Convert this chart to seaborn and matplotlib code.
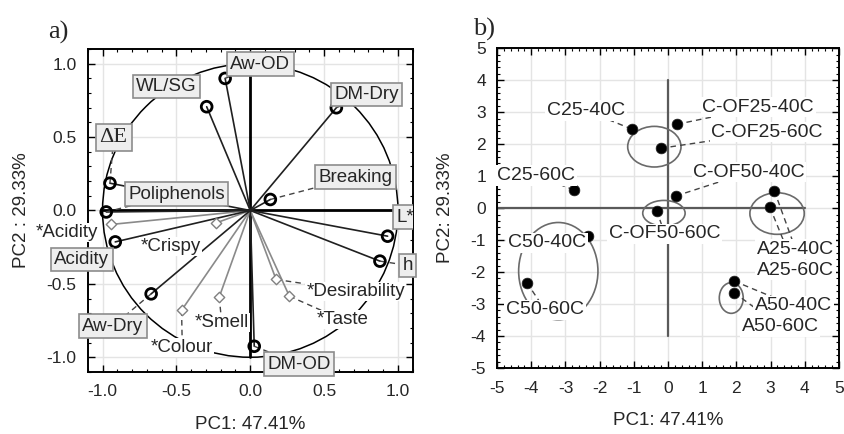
import numpy as np
import pandas as pd
import matplotlib
matplotlib.use("Agg")
import matplotlib.pyplot as plt
from matplotlib.patches import Ellipse, Circle
from matplotlib.ticker import MultipleLocator, FormatStrFormatter
import seaborn as sns

# ---- panel a: variable loadings on PC1/PC2 ----
active_names = ["Aw-OD", "WL/SG", "DM-Dry", "ΔE", "Poliphenols", "Breaking",
                "Acidity", "Aw-Dry", "DM-OD", "L*", "h"]
active_pc1 = [-0.17, -0.295, 0.583, -0.95, -0.975, 0.136, -0.914, -0.671, 0.027, 0.93, 0.878]
active_pc2 = [0.90, 0.707, 0.70, 0.186, -0.01, 0.075, -0.214, -0.568, -0.925, -0.175, -0.345]
active_lab_x = [0.067, -0.567, 0.789, -0.925, -0.50, 0.711, -1.14, -0.932, 0.331, 1.05, 1.065]
active_lab_y = [0.997, 0.845, 0.79, 0.50, 0.112, 0.227, -0.334, -0.789, -1.046, -0.045, -0.374]
active_leader = [True, False, True, True, True, True, False, True, True, False, True]

supp_names = ["*Acidity", "*Crispy", "*Colour", "*Smell", "*Desirability", "*Taste"]
supp_pc1 = [-0.94, -0.229, -0.465, -0.21, 0.175, 0.265]
supp_pc2 = [-0.095, -0.084, -0.68, -0.59, -0.47, -0.584]
supp_lab_x = [-1.24, -0.54, -0.46, -0.193, 0.713, 0.622]
supp_lab_y = [-0.147, -0.243, -0.936, -0.766, -0.55, -0.743]
supp_leader = [False, False, True, True, True, True]

# ---- panel b: sample scores ----
sample_names = ["C25-40C", "C-OF25-40C", "C-OF25-60C", "C25-60C", "C-OF50-40C",
                "A25-40C", "A25-60C", "C-OF50-60C", "C50-40C", "C50-60C",
                "A50-40C", "A50-60C"]
score_pc1 = [-1.06, 0.26, -0.21, -2.76, 0.23, 3.11, 2.98, -0.33, -2.33, -4.13, 1.93, 1.93]
score_pc2 = [2.47, 2.62, 1.87, 0.57, 0.38, 0.54, 0.03, -0.08, -0.87, -2.33, -2.28, -2.64]
sample_lab_x = [-2.40, 2.64, 2.90, -3.85, 2.37, 3.73, 3.73, -0.10, -3.54, -3.60, 3.67, 3.28]
sample_lab_y = [3.05, 3.15, 2.37, 1.02, 1.12, -1.28, -1.94, -0.80, -1.09, -3.18, -3.05, -3.70]

# groups: centre x, centre y, width, height
group_cx = [-0.40, -0.12, 3.19, -3.21, 1.85]
group_cy = [1.92, -0.16, -0.17, -1.97, -2.81]
group_w = [1.56, 1.24, 1.59, 2.32, 0.70]
group_h = [1.27, 0.80, 1.30, 3.04, 0.96]

sns.set_theme(style="white")
plt.rcParams["font.family"] = ["Liberation Sans", "DejaVu Sans"]
plt.rcParams["axes.unicode_minus"] = False
SERIF = ["Liberation Serif", "DejaVu Serif"]

fig = plt.figure(figsize=(8.44, 4.34), dpi=100)
axA = fig.add_axes([0.104, 0.143, 0.385, 0.744])
axB = fig.add_axes([0.589, 0.152, 0.405, 0.737])


def style_axes(ax, minor):
    for s in ax.spines.values():
        s.set_color("black")
        s.set_linewidth(1.4)
    ax.tick_params(which="both", direction="in", top=True, right=True,
                   bottom=True, left=True, color="black")
    ax.tick_params(which="major", length=5, width=1, labelsize=12.5)
    ax.tick_params(axis="x", which="major", pad=9)
    ax.tick_params(axis="y", which="major", pad=8)
    ax.tick_params(which="minor", length=2.5, width=0.8)
    ax.xaxis.set_minor_locator(MultipleLocator(minor))
    ax.yaxis.set_minor_locator(MultipleLocator(minor))
    ax.grid(True, which="major", color="#e4e4e4", lw=1)
    ax.set_axisbelow(True)


dash = (0, (4, 3))

# ----- panel a -----
style_axes(axA, 0.1)
axA.set_xlim(-1.1, 1.1)
axA.set_ylim(-1.1, 1.1)
axA.xaxis.set_major_locator(MultipleLocator(0.5))
axA.yaxis.set_major_locator(MultipleLocator(0.5))
axA.xaxis.set_major_formatter(FormatStrFormatter("%.1f"))
axA.yaxis.set_major_formatter(FormatStrFormatter("%.1f"))

axA.add_patch(Circle((0, 0), 1.0, fill=False, ec="black", lw=1.1, zorder=2))
axA.plot([-1.0, 1.1], [0, 0], color="black", lw=2.0, zorder=2)
axA.plot([0, 0], [-1.0, 1.0], color="black", lw=2.0, zorder=2)

for x, y in zip(supp_pc1, supp_pc2):
    axA.plot([0, x], [0, y], color="#8a8a8a", lw=1.2, zorder=3)
for x, y in zip(active_pc1, active_pc2):
    axA.plot([0, x], [0, y], color="#202020", lw=1.2, zorder=3)

# leader lines from labels to their markers
for x, y, lx, ly, on in zip(active_pc1, active_pc2, active_lab_x, active_lab_y, active_leader):
    if on:
        axA.plot([x, lx], [y, ly], color="#444444", lw=1.0, ls=dash, zorder=3)
for x, y, lx, ly, on in zip(supp_pc1, supp_pc2, supp_lab_x, supp_lab_y, supp_leader):
    if on:
        axA.plot([x, lx], [y, ly], color="#444444", lw=1.0, ls=dash, zorder=3)

dfa = pd.DataFrame({"PC1": active_pc1, "PC2": active_pc2})
dfs = pd.DataFrame({"PC1": supp_pc1, "PC2": supp_pc2})
sns.scatterplot(data=dfs, x="PC1", y="PC2", ax=axA, marker="D", s=28,
                facecolor="white", edgecolor="#808080", linewidth=1.0, zorder=4)
sns.scatterplot(data=dfa, x="PC1", y="PC2", ax=axA, marker="o", s=60,
                facecolor="none", edgecolor="black", linewidth=2.0, zorder=5)

box = dict(boxstyle="square,pad=0.18", facecolor="#eeeeee", edgecolor="#8c8c8c", lw=1.2)
for name, lx, ly in zip(active_names, active_lab_x, active_lab_y):
    kw = dict(ha="center", va="center", fontsize=13.5, bbox=box, zorder=6)
    if name == "ΔE":
        kw["family"] = SERIF
        kw["fontsize"] = 16
    axA.text(lx, ly, name, clip_on=(name == "L*"), **kw)
for name, lx, ly in zip(supp_names, supp_lab_x, supp_lab_y):
    axA.text(lx, ly, name, ha="center", va="center", fontsize=13.5, zorder=6,
             bbox=dict(boxstyle="square,pad=0.05", facecolor="white", edgecolor="none"))

axA.set_xlabel("PC1: 47.41%", fontsize=13.5, labelpad=12)
axA.set_ylabel("PC2 : 29.33%", fontsize=13.5, labelpad=12)
fig.text(0.057, 0.925, "a)", fontsize=19, family=SERIF, ha="left", va="center")

# ----- panel b -----
style_axes(axB, 0.2)
axB.set_xlim(-5, 5)
axB.set_ylim(-5, 5)
axB.xaxis.set_major_locator(MultipleLocator(1))
axB.yaxis.set_major_locator(MultipleLocator(1))

axB.plot([-5, 4], [0, 0], color="#5a5a5a", lw=1.6, zorder=2)
axB.plot([0, 0], [-4, 4], color="#5a5a5a", lw=1.6, zorder=2)

for cx, cy, w, h in zip(group_cx, group_cy, group_w, group_h):
    axB.add_patch(Ellipse((cx, cy), w, h, fill=False, ec="#6a6a6a", lw=1.2, zorder=3))

for x, y, lx, ly in zip(score_pc1, score_pc2, sample_lab_x, sample_lab_y):
    axB.plot([x, lx], [y, ly], color="#444444", lw=1.0, ls=dash, zorder=3)

dfb = pd.DataFrame({"PC1": score_pc1, "PC2": score_pc2})
sns.scatterplot(data=dfb, x="PC1", y="PC2", ax=axB, marker="o", s=60,
                color="black", edgecolor="#222222", linewidth=0.5, zorder=5)

for name, lx, ly in zip(sample_names, sample_lab_x, sample_lab_y):
    axB.text(lx, ly, name, ha="center", va="center", fontsize=14, zorder=6,
             bbox=dict(boxstyle="square,pad=0.08", facecolor="white", edgecolor="none"))

axB.set_xlabel("PC1: 47.41%", fontsize=13.5, labelpad=12)
axB.set_ylabel("PC2: 29.33%", fontsize=13.5, labelpad=12)
fig.text(0.561, 0.932, "b)", fontsize=19, family=SERIF, ha="left", va="center")

fig.savefig("out.png", dpi=100)
